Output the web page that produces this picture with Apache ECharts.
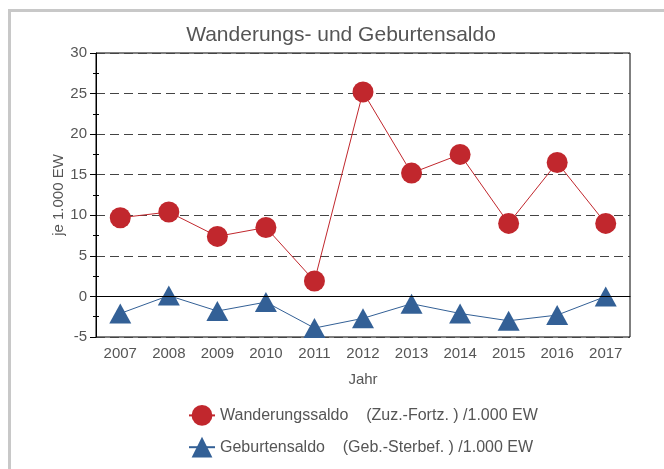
<!DOCTYPE html>
<html>
<head>
<meta charset="utf-8">
<script src="https://cdn.jsdelivr.net/npm/echarts@6/dist/echarts.min.js"></script>
<style>
html,body{margin:0;padding:0;background:#fff;}
#chart{width:664px;height:469px;}
</style>
</head>
<body>
<div id="chart"></div>
<script>
const years = ['2007','2008','2009','2010','2011','2012','2013','2014','2015','2016','2017'];
const wanderungssaldo = [9.7, 10.4, 7.4, 8.5, 1.9, 25.2, 15.2, 17.5, 9.0, 16.5, 9.0];
const geburtensaldo = [-2.1, 0.1, -1.8, -0.7, -3.9, -2.7, -0.9, -2.1, -3.0, -2.3, 0.0];
const seriesNames = ['Wanderungssaldo    (Zuz.-Fortz. ) /1.000 EW', 'Geburtensaldo    (Geb.-Sterbef. ) /1.000 EW'];
const titleText = 'Wanderungs- und Geburtensaldo';
const yName = 'je 1.000 EW';
const xName = 'Jahr';

const FONT = 'Liberation Sans, Arial, sans-serif';
const TXT = '#555';
const chart = echarts.init(document.getElementById('chart'), null, {renderer: 'canvas'});
chart.setOption({
  animation: false,
  backgroundColor: '#fff',
  textStyle: {fontFamily: FONT},
  graphic: [{
    type: 'rect', left: 7, top: 8, z: -1,
    shape: {x: 0, y: 0, width: 700, height: 500},
    style: {fill: 'none', stroke: '#c8c8c8', lineWidth: 3}
  }],
  title: {
    text: titleText, left: 336, top: 20, textAlign: 'center',
    textStyle: {fontFamily: FONT, fontSize: 21, fontWeight: 'normal', color: TXT}
  },
  grid: {left: 96, right: 34, top: 53, bottom: 132, show: true, borderColor: '#000', borderWidth: 1, backgroundColor: 'transparent'},
  legend: {
    orient: 'vertical', left: 183, top: 400, itemWidth: 26, itemHeight: 26, itemGap: 11,
    textStyle: {fontFamily: FONT, fontSize: 16, color: TXT},
    data: seriesNames
  },
  xAxis: [{
    type: 'category', data: years, boundaryGap: true,
    name: xName, nameLocation: 'middle', nameGap: 35,
    nameTextStyle: {fontFamily: FONT, fontSize: 15, color: TXT},
    axisLine: {lineStyle: {color: '#000', width: 1}},
    axisTick: {alignWithLabel: true, length: 5, lineStyle: {color: '#000'}},
    axisLabel: {fontFamily: FONT, fontSize: 15, color: TXT, margin: 9},
    splitLine: {show: false}
  }, {
    type: 'category', data: years, boundaryGap: true, position: 'bottom',
    axisLine: {show: false},
    axisTick: {alignWithLabel: true, inside: true, length: 4, lineStyle: {color: '#000'}},
    axisLabel: {show: false}, splitLine: {show: false}
  }],
  yAxis: [{
    type: 'value', min: -5, max: 30, interval: 5,
    name: yName, nameLocation: 'middle', nameGap: 30, nameMoveOverlap: false,
    nameTextStyle: {fontFamily: FONT, fontSize: 15, color: TXT},
    axisLine: {show: true, lineStyle: {color: '#000', width: 1}},
    axisTick: {show: true, length: 6, lineStyle: {color: '#000'}},
    minorTick: {show: true, splitNumber: 2, length: 3, lineStyle: {color: '#000'}},
    axisLabel: {fontFamily: FONT, fontSize: 15, color: TXT, margin: 9},
    splitLine: {show: true, lineStyle: {color: '#444', width: 1, type: [9, 5]}}
  }, {
    type: 'value', min: -5, max: 30, interval: 5, position: 'left',
    axisLine: {show: false},
    axisTick: {show: false, inside: true},
    minorTick: {show: true, splitNumber: 2, length: 3, lineStyle: {color: '#000'}},
    axisLabel: {show: false}, splitLine: {show: false}
  }],
  series: [{
    name: seriesNames[0], type: 'line', data: wanderungssaldo,
    symbol: 'circle', symbolSize: 21,
    itemStyle: {color: '#C1272D'},
    lineStyle: {color: '#C1272D', width: 1},
    z: 3,
    markLine: {
      silent: true, symbol: 'none', animation: false,
      label: {show: false},
      lineStyle: {color: '#000', type: 'solid', width: 1},
      data: [{yAxis: 0}]
    }
  }, {
    name: seriesNames[1], type: 'line', data: geburtensaldo,
    symbol: 'triangle', symbolSize: [22, 20],
    itemStyle: {color: '#336096'},
    lineStyle: {color: '#336096', width: 1},
    z: 4
  }]
});
</script>
</body>
</html>
